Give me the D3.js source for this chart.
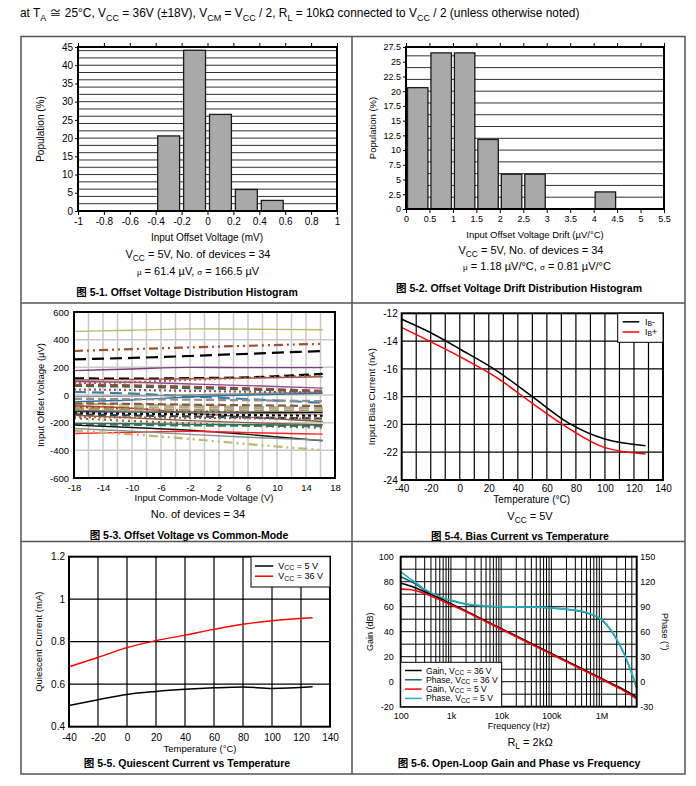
<!DOCTYPE html>
<html>
<head>
<meta charset="utf-8">
<script src="https://cdn.jsdelivr.net/npm/d3@7"></script>
<style>
  body { margin: 0; background: #fff; }
  svg text { font-family: "Liberation Sans", Arial, "Noto Sans CJK SC", sans-serif; fill: #000; }
</style>
</head>
<body>
<svg id="chart" width="696" height="786"></svg>
<script>
// ---- 5-1 offset voltage histogram (bins are 0.2 mV wide) ----
const vosBinStart = [-0.4, -0.2, 0, 0.2, 0.4];
const vosPct = [20.6, 44.1, 26.5, 5.9, 2.9];
const vosTicks = [-1, -0.8, -0.6, -0.4, -0.2, 0, 0.2, 0.4, 0.6, 0.8, 1];
const vosPctTicks = [0, 5, 10, 15, 20, 25, 30, 35, 40, 45];

// ---- 5-2 drift histogram (bins are 0.5 uV/C wide) ----
const driftBinStart = [0, 0.5, 1, 1.5, 2, 2.5, 4];
const driftPct = [20.6, 26.5, 26.5, 11.8, 5.9, 5.9, 2.9];
const driftTicks = [0, 0.5, 1, 1.5, 2, 2.5, 3, 3.5, 4, 4.5, 5, 5.5];
const driftPctTicks = [0, 2.5, 5, 7.5, 10, 12.5, 15, 17.5, 20, 22.5, 25, 27.5];

// ---- 5-3 offset vs common mode, 34 devices ----
const cmVcm = [-18, -10, -2, 6, 16.3];
const cmVos = [
  [460, 468, 478, 476, 472],
  [318, 332, 344, 356, 370],
  [258, 268, 282, 298, 318],
  [176, 188, 200, 198, 198],
  [121, 118, 122, 128, 152],
  [108, 112, 118, 122, 132],
  [98, 92, 80, 68, 50],
  [86, 92, 110, 124, 140],
  [66, 60, 50, 40, 22],
  [74, 70, 60, 48, 30],
  [22, 10, -10, -30, -56],
  [-12, -8, 0, 10, 20],
  [-48, -36, -14, 0, 12],
  [-64, -70, -78, -86, -92],
  [-86, -88, -90, -94, -98],
  [-78, -96, -130, -160, -192],
  [-86, -100, -115, -130, -145],
  [-120, -122, -124, -125, -125],
  [-132, -136, -140, -145, -150],
  [-140, -148, -155, -162, -170],
  [-112, -118, -125, -132, -138],
  [-168, -188, -205, -222, -237],
  [-212, -216, -220, -222, -226],
  [-146, -165, -185, -200, -214],
  [-218, -235, -255, -285, -331],
  [-278, -270, -262, -272, -283],
  [-242, -262, -285, -305, -327],
  [-258, -285, -318, -355, -399],
  [-205, -208, -212, -215, -218],
  [-100, -104, -108, -112, -115],
  [-60, -64, -70, -74, -80],
  [40, 36, 30, 24, 18],
  [-160, -162, -165, -168, -172],
  [-28, -30, -34, -38, -44]
];
const cmColors = ["#bdb66d", "#a0522d", "#000", "#7d3c7d", "#000", "#a0504a", "#8e4a8e", "#b0604a",
  "#2e6e55", "#9a4a3a", "#3f7f9f", "#8c8c8c", "#2f6f9f", "#b8b066", "#a8a8a8", "#8b5a3c", "#ff1a1a",
  "#111", "#000", "#24405f", "#7a7a7a", "#9a5a3a", "#3a7a5a", "#8b5a3c", "#111", "#ff2020", "#8c8c8c",
  "#bdb66d", "#2e6e55", "#a89850", "#8b5a3c", "#a0504a", "#a06040", "#909090"];
const cmDashes = [null, "9,4,2,4,2,4", "12,6", null, "10,5", null, null, "2,3",
  "8,4", "8,4", "12,6", null, null, "10,5", "10,5", null, "2,4",
  null, "3,3", "8,4", null, "2,4", "8,4", null, null, null, null,
  "9,4,2,4,2,4", null, "10,5", "8,4", "2,3", "2,3", "8,4"];
const cmVcmTicks = [-18, -14, -10, -6, -2, 2, 6, 10, 14, 18];
const cmVosTicks = [-600, -400, -200, 0, 200, 400, 600];

// ---- 5-4 bias current vs temperature ----
const ibTemp = [-40, -20, 0, 25, 50, 75, 100, 128];
const ibMinus = [-12.43, -13.4, -14.57, -16.1, -18.0, -19.9, -21.05, -21.53];
const ibPlus = [-13.03, -14.05, -15.12, -16.6, -18.48, -20.28, -21.67, -22.13];
const ibTempTicks = [-40, -20, 0, 20, 40, 60, 80, 100, 120, 140];
const ibTicks = [-24, -22, -20, -18, -16, -14, -12];

// ---- 5-5 quiescent current vs temperature ----
const iqTemp = [-40, -20, 0, 20, 40, 60, 80, 100, 128];
const iq5V = [0.500, 0.527, 0.552, 0.566, 0.576, 0.583, 0.587, 0.580, 0.588];
const iq36V = [0.682, 0.726, 0.772, 0.805, 0.831, 0.858, 0.882, 0.899, 0.913];
const iqTicks = [0.4, 0.6, 0.8, 1, 1.2];

// ---- 5-6 open-loop gain and phase ----
const olFreq = [100, 150, 200, 300, 500, 700, 1e3, 2e3, 5e3, 1e4, 2e4, 5e4, 1e5, 2e5, 5e5, 1e6, 1.5e6, 2e6, 3e6, 4e6, 5e6];
const gain36 = [78.7, 76.8, 75.0, 72.0, 68.0, 65.3, 62.3, 56.5, 48.5, 42.5, 36.5, 28.5, 22.5, 16.5, 8.5, 2.5, -1.0, -3.5, -7.2, -10.0, -12.5];
const phase36 = [126, 121, 117, 110, 103.5, 100, 97.5, 93, 90.5, 90, 89.8, 89.3, 88.3, 86.8, 82.5, 74, 62.5, 50.5, 29.5, 9.5, -7.5];
const gain5 = [74.1, 73.8, 72.8, 70.5, 66.8, 64.3, 61.5, 55.9, 48.0, 42.0, 36.0, 28.0, 22.0, 16.0, 8.0, 2.0, -1.6, -4.2, -8.0, -11.2, -14.0];
const phase5 = [132, 124, 119, 111, 104, 100.5, 98, 93.5, 91, 90, 90, 89.5, 88.5, 87, 83, 74.5, 63, 51, 30, 10, -7];
const olFreqTicks = [100, 1e3, 1e4, 1e5, 1e6];
const olFreqLabels = ["100", "1k", "10k", "100k", "1M"];
const gainTicks = [-20, 0, 20, 40, 60, 80, 100];
const phaseTicks = [-30, 0, 30, 60, 90, 120, 150];

const svg = d3.select("#chart");
const FONT = '"Liberation Sans", Arial, "Noto Sans CJK SC", sans-serif';

// text with V_{CC} style subscripts
function label(x, y, str, size, opts = {}) {
  const t = svg.append("text")
    .attr("x", x).attr("y", y)
    .attr("font-size", size)
    .attr("text-anchor", opts.anchor || "middle")
    .attr("font-weight", opts.bold ? "bold" : null);
  if (opts.rotate) t.attr("transform", `rotate(${opts.rotate},${x},${y})`);
  const shift = size * (opts.subShift || 0.3);
  let sub = false;
  str.split(/(_\{[^}]*\})/).forEach(p => {
    if (!p) return;
    if (p.startsWith("_{")) {
      t.append("tspan").attr("dy", shift).attr("font-size", size * 0.76).text(p.slice(2, -1));
      sub = true;
    } else {
      const s = t.append("tspan").text(p);
      if (sub) s.attr("dy", -shift);
      sub = false;
    }
  });
  return t;
}

function styleAxis(g, fs) {
  g.attr("font-family", FONT).attr("font-size", fs);
  g.select(".domain").remove();
  g.selectAll(".tick text").attr("fill", "#000");
  g.selectAll(".tick line").attr("stroke", "#000");
}

function frame(x0, x1, y0, y1) {
  svg.append("rect")
    .attr("x", x0).attr("y", y0)
    .attr("width", x1 - x0).attr("height", y1 - y0)
    .attr("fill", "none").attr("stroke", "#000").attr("stroke-width", 2);
}

function hLines(g, vals, y, x0, x1, color, w) {
  g.selectAll(null).data(vals).join("line")
    .attr("x1", x0).attr("x2", x1)
    .attr("y1", d => y(d)).attr("y2", d => y(d))
    .attr("stroke", color).attr("stroke-width", w);
}
function vLines(g, vals, x, y0, y1, color, w) {
  g.selectAll(null).data(vals).join("line")
    .attr("x1", d => x(d)).attr("x2", d => x(d))
    .attr("y1", y0).attr("y2", y1)
    .attr("stroke", color).attr("stroke-width", w);
}

// ---- table around the six figures ----
const border = svg.append("g").attr("fill", "none").attr("stroke", "#555").attr("stroke-width", 1.5);
border.append("rect").attr("x", 21).attr("y", 36.5).attr("width", 664).attr("height", 737.5);
border.append("line").attr("x1", 352).attr("x2", 352).attr("y1", 36.5).attr("y2", 774);
border.append("line").attr("x1", 21).attr("x2", 685).attr("y1", 303).attr("y2", 303);
border.append("line").attr("x1", 21).attr("x2", 685).attr("y1", 541.5).attr("y2", 541.5);

label(20, 17, "at T_{A} \u2245 25\u00b0C, V_{CC} = 36V (\u00b118V), V_{CM} = V_{CC} / 2, R_{L} = 10k\u2126  connected to V_{CC} / 2 (unless otherwise noted)", 11.9, {anchor: "start"});

// ---- histogram helper ----
function histogram(o) {
  const g = svg.append("g");
  const x = d3.scaleLinear().domain(o.xDomain).range([o.left, o.right]);
  const y = d3.scaleLinear().domain(o.yDomain).range([o.bottom, o.top]);
  hLines(g, y.ticks(o.gridCount), y, o.left, o.right, "#333", 1);
  g.selectAll("rect").data(o.bins).join("rect")
    .attr("x", d => x(d) + o.inset)
    .attr("width", d => x(d + o.binWidth) - x(d) - 2 * o.inset)
    .attr("y", (d, i) => y(o.values[i]))
    .attr("height", (d, i) => y(0) - y(o.values[i]))
    .attr("fill", "#a9a9a9").attr("stroke", "#1a1a1a").attr("stroke-width", 1.3);
  frame(o.left, o.right, o.top, o.bottom);
  const xa = svg.append("g").attr("transform", `translate(0,${o.bottom})`)
    .call(d3.axisBottom(x).tickValues(o.xTicks).tickSize(4).tickPadding(3).tickFormat(d => String(d)));
  styleAxis(xa, o.fs);
  const xt = svg.append("g").attr("transform", `translate(0,${o.top})`)
    .call(d3.axisTop(x).tickValues(o.xTicks).tickSize(4).tickFormat(""));
  styleAxis(xt, o.fs);
  const ya = svg.append("g").attr("transform", `translate(${o.left},0)`)
    .call(d3.axisLeft(y).tickValues(o.yTicks).tickSize(3).tickPadding(2).tickFormat(d => String(d)));
  styleAxis(ya, o.fs);
}

// 5-1
histogram({
  xDomain: [-1, 1], yDomain: [0, 45], left: 78, right: 337, top: 47, bottom: 211,
  bins: vosBinStart, values: vosPct, binWidth: 0.2, inset: 2,
  xTicks: vosTicks, yTicks: vosPctTicks, gridCount: 18, fs: 10
});
label(43.5, 129, "Population (%)", 10, {rotate: -90});
label(207, 241, "Input Offset Voltage (mV)", 10);
label(198, 258, "V_{CC} = 5V, No. of devices = 34", 11);
const mu1 = svg.append("text").attr("x", 198).attr("y", 275).attr("font-size", 11).attr("text-anchor", "middle");
mu1.append("tspan").attr("font-size", 8).text("\u00b5");
mu1.append("tspan").text(" = 61.4 \u00b5V, ");
mu1.append("tspan").attr("font-size", 8).text("\u03c3");
mu1.append("tspan").text(" = 166.5 \u00b5V");
label(187, 296, "\u56fe 5-1. Offset Voltage Distribution Histogram", 10.5, {bold: true});

// 5-2
histogram({
  xDomain: [0, 5.5], yDomain: [0, 27.5], left: 406, right: 664, top: 47, bottom: 209,
  bins: driftBinStart, values: driftPct, binWidth: 0.5, inset: 1.5,
  xTicks: driftTicks, yTicks: driftPctTicks, gridCount: 11, fs: 9
});
label(375.5, 128, "Population (%)", 9.5, {rotate: -90});
label(535, 237.5, "Input Offset Voltage Drift (\u00b5V/\u00b0C)", 9.5);
label(531, 254, "V_{CC} = 5V, No. of devices = 34", 11);
const mu2 = svg.append("text").attr("x", 537).attr("y", 270).attr("font-size", 11).attr("text-anchor", "middle");
mu2.append("tspan").attr("font-size", 8).text("\u00b5");
mu2.append("tspan").text(" = 1.18 \u00b5V/\u00b0C, ");
mu2.append("tspan").attr("font-size", 8).text("\u03c3");
mu2.append("tspan").text(" = 0.81 \u00b5V/\u00b0C");
label(519, 292, "\u56fe 5-2. Offset Voltage Drift Distribution Histogram", 10.5, {bold: true});

// ---- 5-3 offset voltage vs common mode ----
{
  const x = d3.scaleLinear().domain([-18, 18]).range([74, 335]);
  const y = d3.scaleLinear().domain([-600, 600]).range([478, 312]);
  const g = svg.append("g");
  vLines(g, d3.range(-16, 17, 2), x, 312, 478, "#c8c8c8", 1.5);
  hLines(g, [-400, -200, 0, 200, 400], y, 74, 335, "#c8c8c8", 1.5);
  const line = d3.line().x((d, i) => x(cmVcm[i])).y(d => y(d)).curve(d3.curveMonotoneX);
  g.selectAll("path").data(cmVos).join("path")
    .attr("d", line)
    .attr("fill", "none")
    .attr("stroke", (d, i) => cmColors[i])
    .attr("stroke-dasharray", (d, i) => cmDashes[i])
    .attr("stroke-width", (d, i) => cmDashes[i] ? 2.2 : 1.4);
  frame(74, 335, 312, 478);
  const xa = svg.append("g").attr("transform", "translate(0,478)")
    .call(d3.axisBottom(x).tickValues(cmVcmTicks).tickSize(0).tickPadding(6).tickFormat(d => String(d)));
  styleAxis(xa, 9.5);
  const ya = svg.append("g").attr("transform", "translate(74,0)")
    .call(d3.axisLeft(y).tickValues(cmVosTicks).tickSize(0).tickPadding(5).tickFormat(d => String(d)));
  styleAxis(ya, 9.5);
  label(43.5, 395, "Input Offset Voltage (\u00b5V)", 9.5, {rotate: -90});
  label(204, 501, "Input Common-Mode Voltage (V)", 9.5);
  label(198, 518, "No. of devices = 34", 11);
  label(189, 539, "\u56fe 5-3. Offset Voltage vs Common-Mode", 10.5, {bold: true});
}

// ---- 5-4 bias current vs temperature ----
{
  const x = d3.scaleLinear().domain([-40, 140]).range([401.7, 663]);
  const y = d3.scaleLinear().domain([-24, -12]).range([480, 313.3]);
  const g = svg.append("g");
  vLines(g, d3.range(-30, 140, 10), x, 313.3, 480, "#000", 1.2);
  hLines(g, [-22, -20, -18, -16, -14], y, 401.7, 663, "#000", 1.2);
  const line = d3.line().x((d, i) => x(ibTemp[i])).y(d => y(d)).curve(d3.curveMonotoneX);
  g.append("path").datum(ibMinus).attr("d", line).attr("fill", "none").attr("stroke", "#000").attr("stroke-width", 1.5);
  g.append("path").datum(ibPlus).attr("d", line).attr("fill", "none").attr("stroke", "#ff0000").attr("stroke-width", 1.5);
  frame(401.7, 663, 313.3, 480);
  const xa = svg.append("g").attr("transform", "translate(0,480)")
    .call(d3.axisBottom(x).tickValues(ibTempTicks).tickSize(0).tickPadding(5).tickFormat(d => String(d)));
  styleAxis(xa, 10);
  const ya = svg.append("g").attr("transform", "translate(401.7,0)")
    .call(d3.axisLeft(y).tickValues(ibTicks).tickSize(0).tickPadding(4).tickFormat(d => String(d)));
  styleAxis(ya, 10);
  // legend
  svg.append("rect").attr("x", 617.7).attr("y", 313.3).attr("width", 45.3).attr("height", 29)
    .attr("fill", "#fff").attr("stroke", "#000").attr("stroke-width", 1);
  [["#000", "I_{B}-"], ["#ff0000", "I_{B}+"]].forEach(([c, t], i) => {
    const yy = 321.8 + i * 10.2;
    svg.append("line").attr("x1", 622.7).attr("x2", 639.3).attr("y1", yy).attr("y2", yy)
      .attr("stroke", c).attr("stroke-width", 1.5);
    label(645, yy + 3, t, 9, {anchor: "start", subShift: 0.15});
  });
  label(375.2, 396.7, "Input Bias Current (nA)", 9.5, {rotate: -90});
  label(531.7, 503, "Temperature (\u00b0C)", 10);
  label(530, 519.5, "V_{CC} = 5V", 11);
  label(520, 539.5, "\u56fe 5-4. Bias Current vs Temperature", 10.5, {bold: true});
}

// ---- 5-5 quiescent current vs temperature ----
{
  const x = d3.scaleLinear().domain([-40, 140]).range([69, 330]);
  const y = d3.scaleLinear().domain([0.4, 1.2]).range([726.7, 556.7]);
  const g = svg.append("g");
  vLines(g, d3.range(-20, 140, 20), x, 556.7, 726.7, "#000", 1.2);
  hLines(g, [0.6, 0.8, 1.0], y, 69, 330, "#000", 1.2);
  const line = d3.line().x((d, i) => x(iqTemp[i])).y(d => y(d)).curve(d3.curveMonotoneX);
  g.append("path").datum(iq5V).attr("d", line).attr("fill", "none").attr("stroke", "#000").attr("stroke-width", 1.5);
  g.append("path").datum(iq36V).attr("d", line).attr("fill", "none").attr("stroke", "#ff0000").attr("stroke-width", 1.5);
  frame(69, 330, 556.7, 726.7);
  const xa = svg.append("g").attr("transform", "translate(0,726.7)")
    .call(d3.axisBottom(x).tickValues(ibTempTicks).tickSize(0).tickPadding(7.5).tickFormat(d => String(d)));
  styleAxis(xa, 10);
  const ya = svg.append("g").attr("transform", "translate(69,0)")
    .call(d3.axisLeft(y).tickValues(iqTicks).tickSize(0).tickPadding(4).tickFormat(d => String(d)));
  styleAxis(ya, 10);
  svg.append("rect").attr("x", 251).attr("y", 556.7).attr("width", 79).attr("height", 30.3)
    .attr("fill", "#fff").attr("stroke", "#000").attr("stroke-width", 1);
  [["#000", "V_{CC} = 5 V"], ["#ff0000", "V_{CC} = 36 V"]].forEach(([c, t], i) => {
    const yy = 566 + i * 10.2;
    svg.append("line").attr("x1", 255).attr("x2", 273.3).attr("y1", yy).attr("y2", yy)
      .attr("stroke", c).attr("stroke-width", 1.5);
    label(278.3, yy + 3, t, 9, {anchor: "start", subShift: 0.15});
  });
  label(42.5, 641.7, "Quiescent Current (mA)", 9.5, {rotate: -90});
  label(200, 751.5, "Temperature (\u00b0C)", 9.5);
  label(187, 766.5, "\u56fe 5-5. Quiescent Current vs Temperature", 10.5, {bold: true});
}

// ---- 5-6 open-loop gain and phase ----
{
  const x = d3.scaleLog().domain([100, 5e6]).range([400.7, 636.7]);
  const yG = d3.scaleLinear().domain([-20, 100]).range([706.7, 556.7]);
  const yP = d3.scaleLinear().domain([-30, 150]).range([706.7, 556.7]);
  const g = svg.append("g");
  const minor = [];
  [100, 1e3, 1e4, 1e5, 1e6].forEach(dec => {
    for (let m = 1; m <= 9; m++) if (m * dec < 5e6 && m * dec > 100) minor.push(m * dec);
  });
  vLines(g, minor, x, 556.7, 706.7, "#000", 1);
  hLines(g, d3.range(-10, 100, 10), yG, 400.7, 636.7, "#000", 1);
  const lineG = d3.line().x((d, i) => x(olFreq[i])).y(d => yG(d)).curve(d3.curveMonotoneX);
  const lineP = d3.line().x((d, i) => x(olFreq[i])).y(d => yP(d)).curve(d3.curveMonotoneX);
  g.append("path").datum(phase36).attr("d", lineP).attr("fill", "none").attr("stroke", "#1f5f70").attr("stroke-width", 1.5);
  g.append("path").datum(phase5).attr("d", lineP).attr("fill", "none").attr("stroke", "#22b2c4").attr("stroke-width", 1.6);
  g.append("path").datum(gain36).attr("d", lineG).attr("fill", "none").attr("stroke", "#000").attr("stroke-width", 1.6);
  g.append("path").datum(gain5).attr("d", lineG).attr("fill", "none").attr("stroke", "#ff0000").attr("stroke-width", 1.6);
  frame(400.7, 636.7, 556.7, 706.7);
  const xa = svg.append("g").attr("transform", "translate(0,706.7)")
    .call(d3.axisBottom(x).tickValues(olFreqTicks).tickSize(0).tickPadding(6)
      .tickFormat((d, i) => olFreqLabels[i]));
  styleAxis(xa, 9);
  const ya = svg.append("g").attr("transform", "translate(400.7,0)")
    .call(d3.axisLeft(yG).tickValues(gainTicks).tickSize(0).tickPadding(7).tickFormat(d => String(d)));
  styleAxis(ya, 9);
  const yr = svg.append("g").attr("transform", "translate(636.7,0)")
    .call(d3.axisRight(yP).tickValues(phaseTicks).tickSize(0).tickPadding(3.5).tickFormat(d => String(d)));
  styleAxis(yr, 9);
  svg.append("rect").attr("x", 400.7).attr("y", 662.3).attr("width", 101).attr("height", 44.4)
    .attr("fill", "#fff").attr("stroke", "#000").attr("stroke-width", 1);
  [["#000", "Gain, V_{CC} = 36 V"], ["#1f5f70", "Phase, V_{CC} = 36 V"],
   ["#ff0000", "Gain, V_{CC} = 5 V"], ["#22b2c4", "Phase, V_{CC} = 5 V"]].forEach(([c, t], i) => {
    const yy = 670.5 + i * 9.3;
    svg.append("line").attr("x1", 405).attr("x2", 421.7).attr("y1", yy).attr("y2", yy)
      .attr("stroke", c).attr("stroke-width", 1.5);
    label(426, yy + 3, t, 8.6, {anchor: "start", subShift: 0.15});
  });
  label(373, 631.7, "Gain (dB)", 9, {rotate: -90});
  label(662, 631.7, "Phase (\u00b0)", 9, {rotate: 90});
  label(518.7, 728.5, "Frequency (Hz)", 9);
  label(530, 746, "R_{L} = 2k\u2126", 11);
  label(519, 766.5, "\u56fe 5-6. Open-Loop Gain and Phase vs Frequency", 10.5, {bold: true});
}
</script>
</body>
</html>
